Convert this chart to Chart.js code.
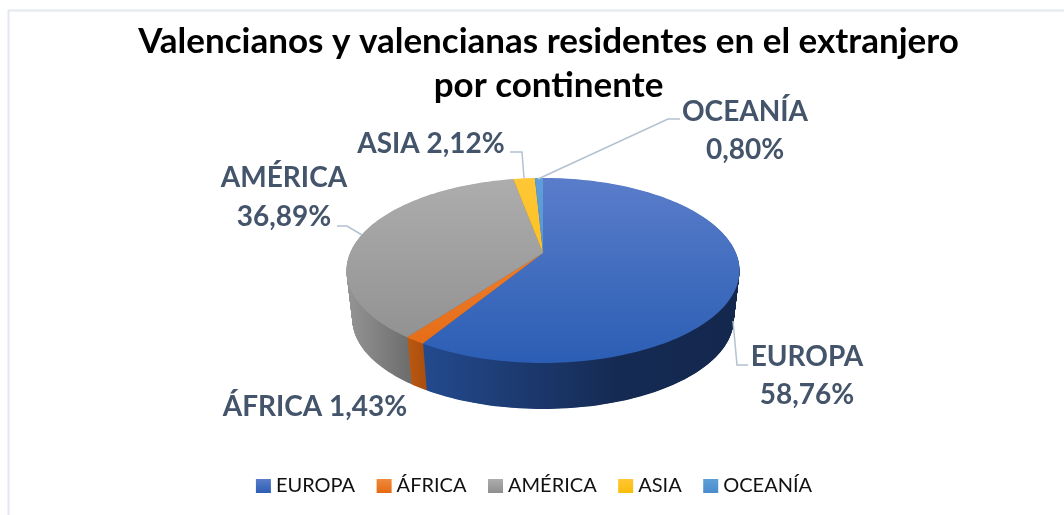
<!DOCTYPE html>
<html>
<head>
<meta charset="utf-8">
<title>Valencianos y valencianas residentes en el extranjero</title>
<script src="https://cdn.jsdelivr.net/npm/chart.js@4/dist/chart.umd.min.js"></script>
<style>
  html, body { margin: 0; padding: 0; background: #fff; }
  canvas { display: block; }
</style>
</head>
<body>
<canvas id="pie" width="1064" height="515"></canvas>
<script>
const titleLines = ['Valencianos y valencianas residentes en el extranjero', 'por continente'];
const continents = ['EUROPA', 'ÁFRICA', 'AMÉRICA', 'ASIA', 'OCEANÍA'];
const percents = [58.76, 1.43, 36.89, 2.12, 0.80];

// colores: cara superior (arriba, abajo) y pared lateral (izquierda, centro, derecha)
const topLight = ['#5a7dca', '#f08a3c', '#adadad', '#ffc636', '#5f9fd9'];
const topDark = ['#2b5eb4', '#e56a14', '#8e8e8e', '#f9bd0a', '#4a8ccb'];
const wallColors = [
  ['#234a8e', '#152a52', '#14284e'],
  ['#b95a12', '#b4540f', '#ad500e'],
  ['#959595', '#6e6e6e', '#6e6e6e'],
  ['#a87d05', '#a87d05', '#a87d05'],
  ['#2f6496', '#2f6496', '#2f6496']
];
const wallMid = [0.62, 0.5, 0.37, 0.5, 0.5];

// Perspectiva del disco
const disc = { cx: 543, cy: 253, a: 193, b: 89.2, k: 0.189 };
const wall = { dropY: 49.3, shrink: 0.97, layers: 100 };

// Etiquetas
const labelPos = [
  { lines: 2, x: 807, y: 357, gap: 38 },
  { lines: 1, x: 315, y: 407 },
  { lines: 2, x: 284, y: 178, gap: 39 },
  { lines: 1, x: 431, y: 144 },
  { lines: 2, x: 745, y: 112, gap: 38 }
];
const leaderLines = [
  [[748, 365], [737, 365], [733, 321]],
  [],
  [[337, 226], [347, 226], [362, 235]],
  [[510, 152], [522, 152], [524, 178]],
  [[680, 119], [668, 119], [538, 179]]
];

function project(angle) {
  const u = Math.cos(angle), v = Math.sin(angle);
  const w = 1 - disc.k * v;
  return [disc.cx + disc.a * u / w, disc.cy + disc.b * v / w];
}

function wedgePoints(arc) {
  const pts = [[disc.cx, disc.cy]];
  const step = Math.PI / 120;
  for (let a = arc.startAngle; a < arc.endAngle; a += step) pts.push(project(a));
  pts.push(project(arc.endAngle));
  return pts;
}

// t = 0 cara superior, t = 1 base del disco
function sunkPoint(p, t) {
  const s = 1 + (wall.shrink - 1) * t;
  return [disc.cx + (p[0] - disc.cx) * s, disc.cy + wall.dropY * t + (p[1] - disc.cy) * s];
}

function fillPath(ctx, pts, fill) {
  ctx.beginPath();
  pts.forEach((p, i) => i ? ctx.lineTo(p[0], p[1]) : ctx.moveTo(p[0], p[1]));
  ctx.closePath();
  ctx.fillStyle = fill;
  ctx.fill();
}

const pie3d = {
  id: 'pie3d',
  beforeDraw(chart) {
    const ctx = chart.ctx;
    ctx.save();
    ctx.strokeStyle = '#e3e8ee';
    ctx.lineWidth = 2;
    ctx.beginPath();
    ctx.moveTo(8.5, 515);
    ctx.lineTo(8.5, 10.5);
    ctx.lineTo(1064, 10.5);
    ctx.stroke();
    ctx.restore();
  },
  afterLayout(chart) {
    // el titulo y la leyenda no quedan centrados igual en el original
    chart.titleBlock.left += 33;
    const legend = chart.legend;
    legend.left += 4;
    legend.top = 486 - 10 - legend.options.labels.padding;
    legend.adjustHitBoxes();
  },
  beforeDatasetsDraw(chart) {
    const ctx = chart.ctx;
    const arcs = chart.getDatasetMeta(0).data;
    ctx.save();

    // paredes: se apilan capas desde la base hacia arriba
    const wallFills = arcs.map((arc, i) => {
      const xs = wedgePoints(arc).slice(1).map(p => p[0]);
      const g = ctx.createLinearGradient(Math.min(...xs), 0, Math.max(...xs), 0);
      g.addColorStop(0, wallColors[i][0]);
      g.addColorStop(wallMid[i], wallColors[i][1]);
      g.addColorStop(1, wallColors[i][2]);
      return g;
    });
    for (let n = wall.layers; n > 0; n--) {
      arcs.forEach((arc, i) => {
        fillPath(ctx, wedgePoints(arc).map(p => sunkPoint(p, n / wall.layers)), wallFills[i]);
      });
    }

    // cara superior
    arcs.forEach((arc, i) => {
      const g = ctx.createLinearGradient(0, project(-Math.PI / 2)[1], 0, project(Math.PI / 2)[1]);
      g.addColorStop(0, topLight[i]);
      g.addColorStop(1, topDark[i]);
      fillPath(ctx, wedgePoints(arc), g);
    });

    ctx.restore();
    return false;
  },
  afterDraw(chart) {
    const ctx = chart.ctx;
    ctx.save();

    // lineas guia
    ctx.strokeStyle = '#b3c1d1';
    ctx.lineWidth = 1.5;
    leaderLines.forEach(line => {
      if (!line.length) return;
      ctx.beginPath();
      line.forEach((p, i) => i ? ctx.lineTo(p[0], p[1]) : ctx.moveTo(p[0], p[1]));
      ctx.stroke();
    });

    // etiquetas de datos
    ctx.fillStyle = '#44546a';
    ctx.font = 'bold 28px Lato';
    ctx.textAlign = 'center';
    ctx.textBaseline = 'middle';
    continents.forEach((name, i) => {
      const value = percents[i].toFixed(2).replace('.', ',') + '%';
      const pos = labelPos[i];
      if (pos.lines === 2) {
        ctx.fillText(name, pos.x, pos.y);
        ctx.fillText(value, pos.x, pos.y + pos.gap);
      } else {
        ctx.fillText(name + ' ' + value, pos.x, pos.y);
      }
    });

    // cuadros de la leyenda
    chart.legend.legendHitBoxes.forEach((box, i) => {
      const g = ctx.createLinearGradient(0, 479, 0, 493);
      g.addColorStop(0, topLight[i]);
      g.addColorStop(1, topDark[i]);
      ctx.fillStyle = g;
      ctx.fillRect(box.left, 479, 15, 14);
    });
    ctx.restore();
  }
};

new Chart(document.getElementById('pie'), {
  type: 'pie',
  data: {
    labels: continents,
    datasets: [{ data: percents, backgroundColor: topDark, borderWidth: 0 }]
  },
  options: {
    responsive: false,
    animation: false,
    plugins: {
      title: {
        display: true,
        text: titleLines,
        color: '#000',
        font: { family: 'Lato', size: 35, weight: 'bold', lineHeight: 1.26 },
        padding: { top: 20, bottom: 0 }
      },
      legend: {
        position: 'bottom',
        labels: {
          color: '#111',
          font: { family: 'Lato', size: 20 },
          boxWidth: 10,
          boxHeight: 14,
          padding: 21.5,
          generateLabels(chart) {
            return Chart.overrides.doughnut.plugins.legend.labels.generateLabels(chart)
              .map(item => ({ ...item, fillStyle: 'transparent', strokeStyle: 'transparent', lineWidth: 0 }));
          }
        }
      },
      tooltip: { enabled: false }
    }
  },
  plugins: [pie3d]
});
</script>
</body>
</html>
